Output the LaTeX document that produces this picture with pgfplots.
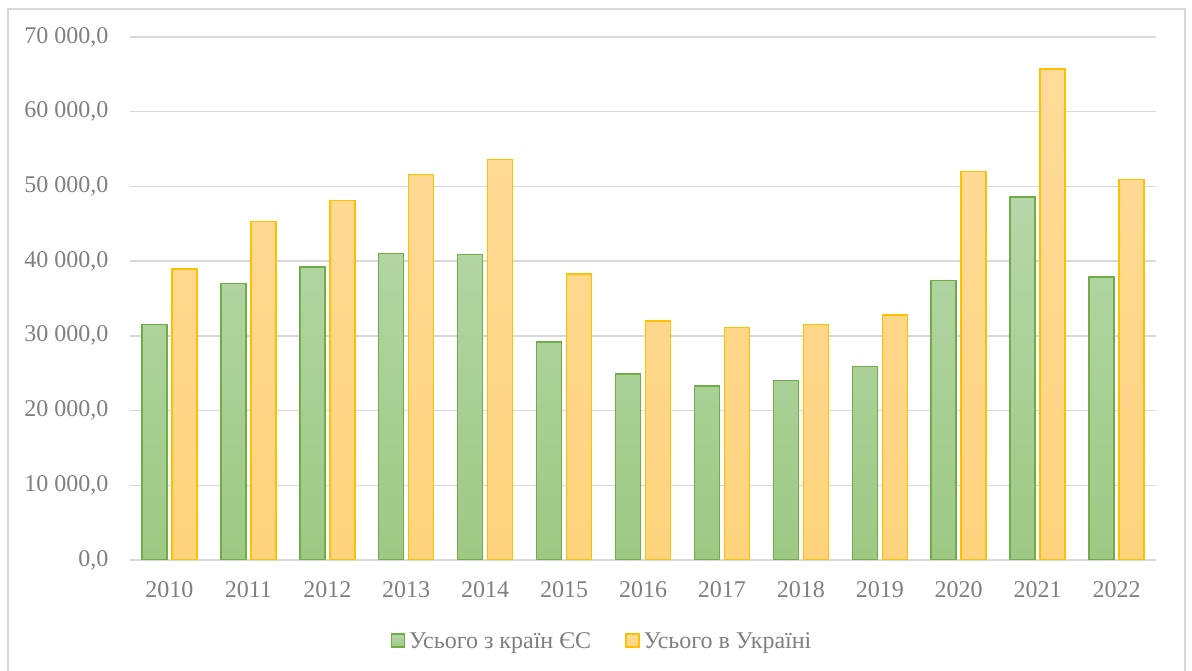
\documentclass[border=0pt]{standalone}
\usepackage{pgfplots}
\pgfplotsset{compat=1.18}
\usepackage{fontspec}
\setmainfont{Liberation Serif}
\definecolor{txt}{HTML}{7F7F7F}
\definecolor{gridc}{HTML}{D9D9D9}
\definecolor{gedge}{HTML}{70AD47}
\definecolor{gtop}{HTML}{B6D7A8}
\definecolor{gbot}{HTML}{9DC984}
\definecolor{yedge}{HTML}{FFC000}
\definecolor{ytop}{HTML}{FFDB9A}
\definecolor{ybot}{HTML}{FFD47E}
\begin{document}
\begin{tikzpicture}[x=1pt,y=1pt]
\useasboundingbox (0,0) rectangle (1192,671);
\draw[gridc, line width=1.5pt] (8,0) -- (8,662) -- (1185,662) -- (1185,0);
\begin{axis}[
  at={(130pt,111pt)}, anchor=south west,
  scale only axis, width=1026pt, height=523pt,
  ybar=5pt, bar width=25pt,
  xmin=-0.5, xmax=12.5, ymin=0, ymax=70000,
  xtick={0,...,12},
  xticklabels={2010,2011,2012,2013,2014,2015,2016,2017,2018,2019,2020,2021,2022},
  ytick={0,10000,...,70000},
  axis x line*=bottom,
  axis y line*=left,
  x axis line style={draw=gridc, line width=1.5pt, -},
  y axis line style={draw=none},
  ymajorgrids, grid style={gridc, line width=1.5pt},
  major tick length=0pt,
  tick label style={font=\fontsize{24}{28}\selectfont, text=txt},
  yticklabel style={xshift=-18pt},
  xticklabel style={yshift=-18pt},
  yticklabel={\pgfmathprintnumber[fixed, fixed zerofill, precision=1, use comma, 1000 sep={\ }, assume math mode=true]{\tick}},
  scaled y ticks=false,
  legend style={at={(0.46,-0.155)}, anchor=center, draw=none, legend columns=2,
    font=\fontsize{24}{28}\selectfont, text=txt,
    /tikz/every odd column/.append style={column sep=2pt},
    /tikz/every even column/.append style={column sep=32pt}},
  legend image code/.code={\draw[#1] (0pt,-6pt) rectangle (13pt,7pt);},
]
\addplot[draw=gedge, line width=1.5pt, top color=gtop, bottom color=gbot] coordinates {
(0,31500) (1,37000) (2,39200) (3,41000) (4,40900) (5,29200) (6,24900) (7,23300) (8,24000) (9,25900) (10,37400) (11,48600) (12,37900)};
\addplot[draw=yedge, line width=1.5pt, top color=ytop, bottom color=ybot] coordinates {
(0,38950) (1,45300) (2,48100) (3,51600) (4,53600) (5,38300) (6,32000) (7,31100) (8,31500) (9,32800) (10,52000) (11,65700) (12,50900)};
\legend{Усього з країн ЄС, Усього в Україні}
\end{axis}
\end{tikzpicture}
\end{document}
